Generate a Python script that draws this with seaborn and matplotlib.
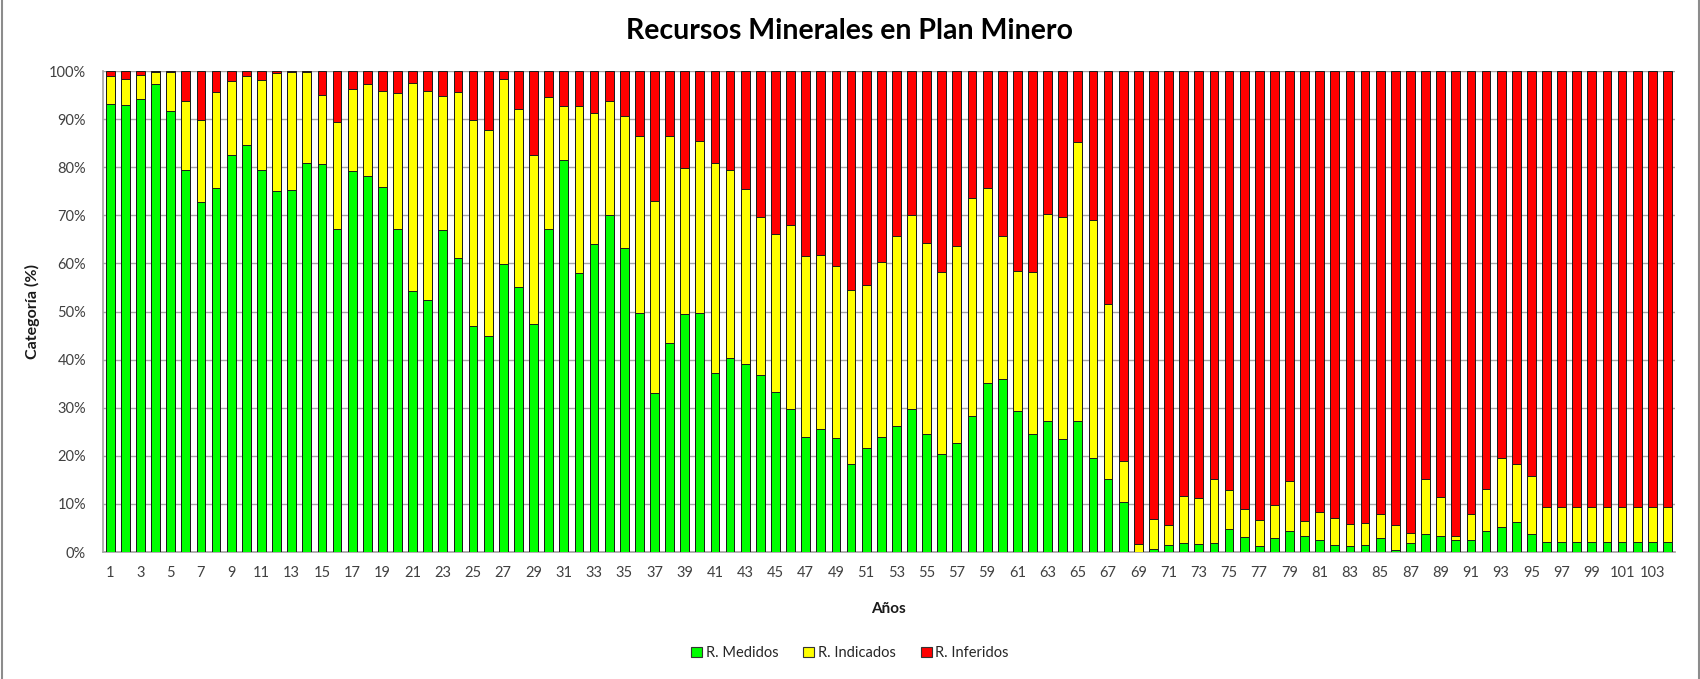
import matplotlib
matplotlib.use("Agg")
import matplotlib.pyplot as plt
from matplotlib.patches import Patch
from matplotlib.lines import Line2D
from matplotlib.ticker import PercentFormatter, MultipleLocator
import pandas as pd
import seaborn as sns

# Años del plan minero
years = list(range(1, 105))

# Participación (%) de recursos medidos por año
medidos = [
    93.1, 93.0, 94.2, 97.2, 91.7, 79.5, 72.7, 75.7, 82.6, 84.6,
    79.5, 75.0, 75.2, 80.9, 80.7, 67.1, 79.3, 78.2, 75.9, 67.1,
    54.3, 52.4, 66.9, 61.2, 46.9, 44.9, 59.8, 55.1, 47.4, 67.1,
    81.6, 58.1, 64.1, 70.0, 63.2, 49.7, 33.1, 43.5, 49.5, 49.7,
    37.3, 40.4, 39.0, 36.8, 33.3, 29.7, 23.9, 25.6, 23.8, 18.3,
    21.7, 23.9, 26.3, 29.8, 24.6, 20.4, 22.7, 28.3, 35.2, 35.9,
    29.3, 24.6, 27.2, 23.6, 27.2, 19.6, 15.1, 10.4, 0.1, 0.6,
    1.5, 1.9, 1.7, 1.9, 4.8, 3.1, 1.2, 2.9, 4.4, 3.3,
    2.6, 1.5, 1.3, 1.5, 2.9, 0.4, 1.9, 3.8, 3.3, 2.4,
    2.4, 4.4, 5.1, 6.2, 3.8, 2.1, 2.1, 2.1, 2.1, 2.1,
    2.1, 2.1, 2.1, 2.1,
]

# Participación (%) de recursos indicados por año
indicados = [
    5.9, 5.3, 5.0, 2.6, 8.2, 14.3, 17.2, 19.9, 15.3, 14.3,
    18.7, 24.6, 24.7, 18.8, 14.4, 22.4, 17.0, 19.0, 20.0, 28.3,
    43.3, 43.5, 28.0, 34.5, 43.0, 42.8, 38.5, 37.1, 35.2, 27.5,
    11.1, 34.6, 27.2, 23.8, 27.4, 36.7, 39.9, 42.9, 30.4, 35.7,
    43.5, 39.0, 36.5, 32.8, 32.9, 38.3, 37.7, 36.1, 35.6, 36.1,
    33.8, 36.5, 39.5, 40.2, 39.6, 37.9, 41.0, 45.3, 40.5, 29.9,
    29.1, 33.7, 43.0, 46.0, 58.1, 49.5, 36.5, 8.6, 1.6, 6.3,
    4.1, 9.8, 9.6, 13.2, 8.0, 5.9, 5.5, 6.9, 10.4, 3.1,
    5.7, 5.6, 4.5, 4.6, 5.0, 5.2, 2.1, 11.3, 8.2, 0.9,
    5.5, 8.6, 14.5, 12.2, 12.1, 7.2, 7.2, 7.2, 7.2, 7.2,
    7.2, 7.2, 7.2, 7.2,
]

# El resto corresponde a recursos inferidos
inferidos = [round(100 - m - i, 1) for m, i in zip(medidos, indicados)]

series_labels = ["R. Medidos", "R. Indicados", "R. Inferidos"]
series_colors = ["#00FF00", "#FFFF00", "#FF0000"]

df = pd.DataFrame({"Año": years, "Medidos": medidos,
                   "Indicados": indicados, "Inferidos": inferidos})
df["tope_indicados"] = df["Medidos"] + df["Indicados"]
df["tope_inferidos"] = df["tope_indicados"] + df["Inferidos"]

sns.set_theme(style="white")
plt.rcParams["font.family"] = ["Lato", "DejaVu Sans"]

fig = plt.figure(figsize=(17, 6.79), dpi=100)
ax = fig.add_axes([0.0604, 0.187, 0.9249, 0.7084])

# Barras apiladas: se dibuja cada tope acumulado, del mayor al menor
for col, color in [("tope_inferidos", series_colors[2]),
                   ("tope_indicados", series_colors[1]),
                   ("Medidos", series_colors[0])]:
    sns.barplot(data=df, x="Año", y=col, color=color, saturation=1,
                width=0.58, edgecolor="#1a1a1a", linewidth=0.7,
                errorbar=None, ax=ax, zorder=3)

ax.set_ylim(0, 100)
ax.set_xlim(-0.5, len(years) - 0.5)
ax.yaxis.set_major_locator(MultipleLocator(10))
ax.yaxis.set_major_formatter(PercentFormatter(decimals=0))
ax.set_xticks(range(0, len(years), 2))
ax.set_xticklabels([str(y) for y in years[::2]])

ax.yaxis.grid(True, color="#a6a6a6", linewidth=1)
ax.xaxis.grid(False)
ax.set_axisbelow(True)
for side in ["top", "right"]:
    ax.spines[side].set_visible(False)
ax.spines["left"].set_color("#a6a6a6")
ax.spines["bottom"].set_color("#a6a6a6")
ax.tick_params(axis="both", length=0, labelsize=10.5, colors="#404040")
ax.tick_params(axis="y", pad=12)
ax.tick_params(axis="x", pad=10)

ax.set_xlabel("Años", fontsize=11, fontweight="bold", color="#1a1a1a")
ax.set_ylabel("Categoría (%)", fontsize=11.5, fontweight="bold", color="#1a1a1a")
ax.xaxis.set_label_coords(0.5, -0.104)
ax.yaxis.set_label_coords(-0.040, 0.5)

fig.suptitle("Recursos Minerales en Plan Minero", fontsize=20.5,
             fontweight="bold", y=0.954, va="center", color="black")

handles = [Patch(facecolor=c, edgecolor="#333333", linewidth=0.8, label=l)
           for c, l in zip(series_colors, series_labels)]
fig.legend(handles=handles, loc="center", bbox_to_anchor=(0.5, 0.038),
           ncol=3, frameon=False, fontsize=10.5, handlelength=0.75,
           handleheight=0.75, handletextpad=0.25, columnspacing=1.7)

# Marco lateral del área del gráfico
for xf in (1.5 / 1700, 1698.5 / 1700):
    fig.add_artist(Line2D([xf, xf], [0, 1], transform=fig.transFigure,
                          color="#8c8c8c", linewidth=1.5))

fig.savefig("out.png", dpi=100)
